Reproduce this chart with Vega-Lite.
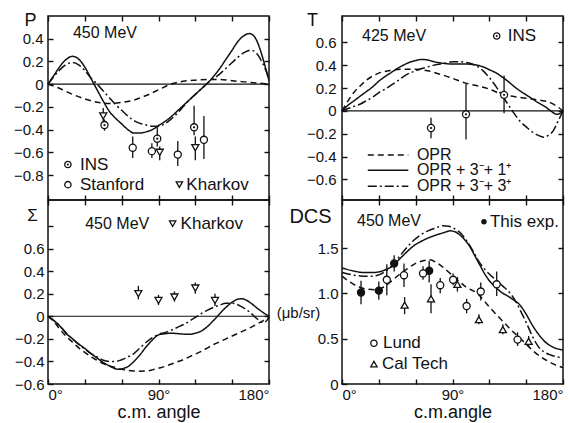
{
"$schema": "https://vega.github.io/schema/vega-lite/v6.json",
"padding": {"left": 12, "top": 10, "right": 2, "bottom": 2},
"background": "white",
"datasets": {
"one": [{}],
"pc": [
{"m":"S","a":0,"v":0},{"m":"S","a":5,"v":0.08},{"m":"S","a":10,"v":0.16},{"m":"S","a":15,"v":0.22},{"m":"S","a":20,"v":0.245},{"m":"S","a":25,"v":0.22},{"m":"S","a":30,"v":0.15},{"m":"S","a":35,"v":0.05},{"m":"S","a":40,"v":-0.05},{"m":"S","a":45,"v":-0.15},{"m":"S","a":50,"v":-0.24},{"m":"S","a":55,"v":-0.3},{"m":"S","a":60,"v":-0.35},{"m":"S","a":65,"v":-0.4},{"m":"S","a":70,"v":-0.43},{"m":"S","a":75,"v":-0.43},{"m":"S","a":80,"v":-0.42},{"m":"S","a":85,"v":-0.4},{"m":"S","a":90,"v":-0.365},{"m":"S","a":95,"v":-0.33},{"m":"S","a":100,"v":-0.29},{"m":"S","a":105,"v":-0.24},{"m":"S","a":110,"v":-0.19},{"m":"S","a":115,"v":-0.14},{"m":"S","a":120,"v":-0.09},{"m":"S","a":125,"v":-0.04},{"m":"S","a":130,"v":0.01},{"m":"S","a":135,"v":0.07},{"m":"S","a":140,"v":0.14},{"m":"S","a":145,"v":0.22},{"m":"S","a":150,"v":0.3},{"m":"S","a":155,"v":0.38},{"m":"S","a":160,"v":0.43},{"m":"S","a":164,"v":0.445},{"m":"S","a":168,"v":0.42},{"m":"S","a":172,"v":0.33},{"m":"S","a":176,"v":0.19},{"m":"S","a":180,"v":0.03},
{"m":"D","a":0,"v":0},{"m":"D","a":5,"v":0.07},{"m":"D","a":10,"v":0.13},{"m":"D","a":15,"v":0.175},{"m":"D","a":20,"v":0.19},{"m":"D","a":25,"v":0.17},{"m":"D","a":30,"v":0.12},{"m":"D","a":35,"v":0.055},{"m":"D","a":40,"v":0},{"m":"D","a":45,"v":-0.06},{"m":"D","a":50,"v":-0.12},{"m":"D","a":55,"v":-0.18},{"m":"D","a":60,"v":-0.23},{"m":"D","a":65,"v":-0.28},{"m":"D","a":70,"v":-0.32},{"m":"D","a":75,"v":-0.345},{"m":"D","a":80,"v":-0.36},{"m":"D","a":85,"v":-0.37},{"m":"D","a":90,"v":-0.37},{"m":"D","a":95,"v":-0.35},{"m":"D","a":100,"v":-0.31},{"m":"D","a":105,"v":-0.26},{"m":"D","a":110,"v":-0.2},{"m":"D","a":115,"v":-0.14},{"m":"D","a":120,"v":-0.09},{"m":"D","a":125,"v":-0.04},{"m":"D","a":130,"v":0.01},{"m":"D","a":135,"v":0.05},{"m":"D","a":140,"v":0.09},{"m":"D","a":145,"v":0.14},{"m":"D","a":150,"v":0.19},{"m":"D","a":155,"v":0.24},{"m":"D","a":160,"v":0.28},{"m":"D","a":165,"v":0.3},{"m":"D","a":170,"v":0.27},{"m":"D","a":175,"v":0.18},{"m":"D","a":180,"v":0.05},
{"m":"O","a":0,"v":0},{"m":"O","a":10,"v":-0.04},{"m":"O","a":20,"v":-0.09},{"m":"O","a":30,"v":-0.13},{"m":"O","a":40,"v":-0.16},{"m":"O","a":50,"v":-0.17},{"m":"O","a":60,"v":-0.16},{"m":"O","a":70,"v":-0.14},{"m":"O","a":80,"v":-0.1},{"m":"O","a":90,"v":-0.05},{"m":"O","a":100,"v":0},{"m":"O","a":110,"v":0.025},{"m":"O","a":120,"v":0.035},{"m":"O","a":130,"v":0.04},{"m":"O","a":140,"v":0.04},{"m":"O","a":150,"v":0.03},{"m":"O","a":160,"v":0.02},{"m":"O","a":170,"v":0.01},{"m":"O","a":180,"v":0}
],
"pp": [
{"s":"INS","a":46,"v":-0.36,"lo":-0.41,"hi":-0.31},{"s":"INS","a":89,"v":-0.48,"lo":-0.55,"hi":-0.37},{"s":"INS","a":119,"v":-0.38,"lo":-0.45,"hi":-0.19},
{"s":"Stanford","a":69,"v":-0.56,"lo":-0.65,"hi":-0.46},{"s":"Stanford","a":84.6,"v":-0.59,"lo":-0.65,"hi":-0.52},{"s":"Stanford","a":105.7,"v":-0.62,"lo":-0.72,"hi":-0.5},{"s":"Stanford","a":127,"v":-0.49,"lo":-0.66,"hi":-0.28},
{"s":"Kharkov","a":45,"v":-0.28,"lo":-0.33,"hi":-0.21},{"s":"Kharkov","a":91,"v":-0.6,"lo":-0.67,"hi":-0.55},{"s":"Kharkov","a":120,"v":-0.56,"lo":-0.67,"hi":-0.46}
],
"tc": [
{"m":"S","a":0,"v":0},{"m":"S","a":5,"v":0.05},{"m":"S","a":10,"v":0.09},{"m":"S","a":15,"v":0.13},{"m":"S","a":20,"v":0.17},{"m":"S","a":25,"v":0.21},{"m":"S","a":30,"v":0.26},{"m":"S","a":35,"v":0.3},{"m":"S","a":40,"v":0.335},{"m":"S","a":45,"v":0.37},{"m":"S","a":50,"v":0.4},{"m":"S","a":55,"v":0.425},{"m":"S","a":60,"v":0.44},{"m":"S","a":65,"v":0.45},{"m":"S","a":70,"v":0.445},{"m":"S","a":75,"v":0.43},{"m":"S","a":80,"v":0.42},{"m":"S","a":90,"v":0.41},{"m":"S","a":100,"v":0.41},{"m":"S","a":110,"v":0.4},{"m":"S","a":115,"v":0.385},{"m":"S","a":120,"v":0.36},{"m":"S","a":125,"v":0.335},{"m":"S","a":130,"v":0.3},{"m":"S","a":135,"v":0.26},{"m":"S","a":140,"v":0.215},{"m":"S","a":145,"v":0.175},{"m":"S","a":150,"v":0.14},{"m":"S","a":155,"v":0.105},{"m":"S","a":160,"v":0.07},{"m":"S","a":165,"v":0.04},{"m":"S","a":170,"v":0},{"m":"S","a":175,"v":-0.03},{"m":"S","a":178,"v":-0.02},{"m":"S","a":180,"v":0},
{"m":"D","a":0,"v":0},{"m":"D","a":5,"v":0.02},{"m":"D","a":10,"v":0.04},{"m":"D","a":15,"v":0.06},{"m":"D","a":20,"v":0.09},{"m":"D","a":25,"v":0.12},{"m":"D","a":30,"v":0.16},{"m":"D","a":35,"v":0.19},{"m":"D","a":40,"v":0.225},{"m":"D","a":45,"v":0.26},{"m":"D","a":50,"v":0.3},{"m":"D","a":55,"v":0.33},{"m":"D","a":60,"v":0.35},{"m":"D","a":65,"v":0.37},{"m":"D","a":70,"v":0.385},{"m":"D","a":75,"v":0.4},{"m":"D","a":80,"v":0.41},{"m":"D","a":85,"v":0.42},{"m":"D","a":90,"v":0.43},{"m":"D","a":95,"v":0.43},{"m":"D","a":100,"v":0.425},{"m":"D","a":105,"v":0.415},{"m":"D","a":110,"v":0.39},{"m":"D","a":115,"v":0.35},{"m":"D","a":120,"v":0.29},{"m":"D","a":125,"v":0.22},{"m":"D","a":130,"v":0.14},{"m":"D","a":135,"v":0.06},{"m":"D","a":140,"v":-0.02},{"m":"D","a":145,"v":-0.09},{"m":"D","a":150,"v":-0.14},{"m":"D","a":155,"v":-0.185},{"m":"D","a":160,"v":-0.215},{"m":"D","a":164,"v":-0.23},{"m":"D","a":168,"v":-0.215},{"m":"D","a":172,"v":-0.175},{"m":"D","a":176,"v":-0.09},{"m":"D","a":180,"v":0},
{"m":"O","a":0,"v":0},{"m":"O","a":5,"v":0.09},{"m":"O","a":10,"v":0.165},{"m":"O","a":15,"v":0.22},{"m":"O","a":20,"v":0.27},{"m":"O","a":25,"v":0.305},{"m":"O","a":30,"v":0.33},{"m":"O","a":40,"v":0.355},{"m":"O","a":50,"v":0.365},{"m":"O","a":60,"v":0.365},{"m":"O","a":70,"v":0.35},{"m":"O","a":80,"v":0.32},{"m":"O","a":90,"v":0.285},{"m":"O","a":100,"v":0.245},{"m":"O","a":110,"v":0.22},{"m":"O","a":120,"v":0.19},{"m":"O","a":130,"v":0.145},{"m":"O","a":140,"v":0.125},{"m":"O","a":150,"v":0.11},{"m":"O","a":160,"v":0.095},{"m":"O","a":170,"v":0.07},{"m":"O","a":175,"v":0.04},{"m":"O","a":180,"v":0}
],
"tp": [
{"s":"INS","a":72.5,"v":-0.15,"lo":-0.24,"hi":-0.06},{"s":"INS","a":101,"v":-0.03,"lo":-0.25,"hi":0.24},{"s":"INS","a":132,"v":0.14,"lo":-0.02,"hi":0.31}
],
"sc": [
{"m":"S","a":0,"v":0},{"m":"S","a":5,"v":-0.04},{"m":"S","a":10,"v":-0.09},{"m":"S","a":15,"v":-0.155},{"m":"S","a":20,"v":-0.2},{"m":"S","a":25,"v":-0.245},{"m":"S","a":30,"v":-0.285},{"m":"S","a":35,"v":-0.33},{"m":"S","a":40,"v":-0.37},{"m":"S","a":45,"v":-0.41},{"m":"S","a":50,"v":-0.44},{"m":"S","a":55,"v":-0.465},{"m":"S","a":58,"v":-0.47},{"m":"S","a":62,"v":-0.46},{"m":"S","a":66,"v":-0.44},{"m":"S","a":70,"v":-0.4},{"m":"S","a":75,"v":-0.34},{"m":"S","a":80,"v":-0.27},{"m":"S","a":85,"v":-0.21},{"m":"S","a":90,"v":-0.165},{"m":"S","a":95,"v":-0.155},{"m":"S","a":100,"v":-0.15},{"m":"S","a":105,"v":-0.153},{"m":"S","a":110,"v":-0.158},{"m":"S","a":115,"v":-0.16},{"m":"S","a":120,"v":-0.15},{"m":"S","a":125,"v":-0.13},{"m":"S","a":130,"v":-0.09},{"m":"S","a":135,"v":-0.035},{"m":"S","a":140,"v":0.025},{"m":"S","a":145,"v":0.08},{"m":"S","a":150,"v":0.125},{"m":"S","a":155,"v":0.152},{"m":"S","a":158,"v":0.155},{"m":"S","a":162,"v":0.14},{"m":"S","a":166,"v":0.11},{"m":"S","a":170,"v":0.075},{"m":"S","a":175,"v":0.035},{"m":"S","a":180,"v":0},
{"m":"D","a":0,"v":0},{"m":"D","a":5,"v":-0.04},{"m":"D","a":10,"v":-0.09},{"m":"D","a":15,"v":-0.15},{"m":"D","a":20,"v":-0.2},{"m":"D","a":25,"v":-0.25},{"m":"D","a":30,"v":-0.29},{"m":"D","a":35,"v":-0.33},{"m":"D","a":40,"v":-0.36},{"m":"D","a":45,"v":-0.39},{"m":"D","a":50,"v":-0.4},{"m":"D","a":55,"v":-0.4},{"m":"D","a":60,"v":-0.385},{"m":"D","a":65,"v":-0.36},{"m":"D","a":70,"v":-0.33},{"m":"D","a":75,"v":-0.28},{"m":"D","a":80,"v":-0.23},{"m":"D","a":85,"v":-0.19},{"m":"D","a":90,"v":-0.16},{"m":"D","a":95,"v":-0.145},{"m":"D","a":100,"v":-0.125},{"m":"D","a":105,"v":-0.1},{"m":"D","a":110,"v":-0.075},{"m":"D","a":115,"v":-0.045},{"m":"D","a":120,"v":-0.01},{"m":"D","a":125,"v":0.025},{"m":"D","a":130,"v":0.055},{"m":"D","a":135,"v":0.08},{"m":"D","a":140,"v":0.1},{"m":"D","a":145,"v":0.115},{"m":"D","a":150,"v":0.115},{"m":"D","a":155,"v":0.1},{"m":"D","a":160,"v":0.07},{"m":"D","a":165,"v":0.03},{"m":"D","a":170,"v":-0.02},{"m":"D","a":175,"v":-0.055},{"m":"D","a":178,"v":-0.04},{"m":"D","a":180,"v":-0.01},
{"m":"O","a":0,"v":0},{"m":"O","a":5,"v":-0.05},{"m":"O","a":10,"v":-0.12},{"m":"O","a":15,"v":-0.18},{"m":"O","a":20,"v":-0.23},{"m":"O","a":25,"v":-0.28},{"m":"O","a":30,"v":-0.32},{"m":"O","a":35,"v":-0.36},{"m":"O","a":40,"v":-0.39},{"m":"O","a":45,"v":-0.42},{"m":"O","a":50,"v":-0.44},{"m":"O","a":55,"v":-0.455},{"m":"O","a":60,"v":-0.47},{"m":"O","a":65,"v":-0.48},{"m":"O","a":70,"v":-0.485},{"m":"O","a":75,"v":-0.487},{"m":"O","a":80,"v":-0.485},{"m":"O","a":85,"v":-0.475},{"m":"O","a":90,"v":-0.46},{"m":"O","a":95,"v":-0.445},{"m":"O","a":100,"v":-0.425},{"m":"O","a":105,"v":-0.405},{"m":"O","a":110,"v":-0.385},{"m":"O","a":115,"v":-0.36},{"m":"O","a":120,"v":-0.335},{"m":"O","a":125,"v":-0.31},{"m":"O","a":130,"v":-0.28},{"m":"O","a":135,"v":-0.25},{"m":"O","a":140,"v":-0.225},{"m":"O","a":145,"v":-0.2},{"m":"O","a":150,"v":-0.175},{"m":"O","a":155,"v":-0.15},{"m":"O","a":160,"v":-0.125},{"m":"O","a":165,"v":-0.1},{"m":"O","a":170,"v":-0.07},{"m":"O","a":175,"v":-0.04},{"m":"O","a":180,"v":-0.01}
],
"sp": [
{"s":"Kharkov","a":73.6,"v":0.2,"lo":0.15,"hi":0.27},{"s":"Kharkov","a":90,"v":0.14,"lo":0.1,"hi":0.19},{"s":"Kharkov","a":103,"v":0.17,"lo":0.13,"hi":0.22},{"s":"Kharkov","a":120,"v":0.25,"lo":0.2,"hi":0.3},{"s":"Kharkov","a":136,"v":0.14,"lo":0.09,"hi":0.2}
],
"dc": [
{"m":"S","a":0,"v":1.28},{"m":"S","a":10,"v":1.245},{"m":"S","a":17,"v":1.23},{"m":"S","a":25,"v":1.23},{"m":"S","a":31,"v":1.24},{"m":"S","a":37,"v":1.27},{"m":"S","a":42,"v":1.31},{"m":"S","a":47,"v":1.38},{"m":"S","a":53,"v":1.46},{"m":"S","a":58,"v":1.52},{"m":"S","a":64,"v":1.57},{"m":"S","a":70,"v":1.61},{"m":"S","a":77,"v":1.645},{"m":"S","a":83,"v":1.67},{"m":"S","a":88,"v":1.69},{"m":"S","a":92,"v":1.68},{"m":"S","a":96,"v":1.645},{"m":"S","a":100,"v":1.59},{"m":"S","a":104,"v":1.52},{"m":"S","a":108,"v":1.42},{"m":"S","a":112,"v":1.32},{"m":"S","a":116,"v":1.22},{"m":"S","a":120,"v":1.14},{"m":"S","a":125,"v":1.07},{"m":"S","a":130,"v":1.01},{"m":"S","a":135,"v":0.97},{"m":"S","a":140,"v":0.925},{"m":"S","a":145,"v":0.87},{"m":"S","a":150,"v":0.77},{"m":"S","a":155,"v":0.65},{"m":"S","a":160,"v":0.55},{"m":"S","a":165,"v":0.47},{"m":"S","a":170,"v":0.42},{"m":"S","a":175,"v":0.39},{"m":"S","a":180,"v":0.375},
{"m":"D","a":0,"v":1.23},{"m":"D","a":10,"v":1.2},{"m":"D","a":17,"v":1.19},{"m":"D","a":25,"v":1.19},{"m":"D","a":31,"v":1.21},{"m":"D","a":37,"v":1.26},{"m":"D","a":42,"v":1.32},{"m":"D","a":47,"v":1.41},{"m":"D","a":53,"v":1.51},{"m":"D","a":58,"v":1.58},{"m":"D","a":64,"v":1.645},{"m":"D","a":70,"v":1.69},{"m":"D","a":76,"v":1.72},{"m":"D","a":82,"v":1.745},{"m":"D","a":87,"v":1.74},{"m":"D","a":92,"v":1.71},{"m":"D","a":97,"v":1.66},{"m":"D","a":102,"v":1.57},{"m":"D","a":107,"v":1.46},{"m":"D","a":111,"v":1.36},{"m":"D","a":116,"v":1.27},{"m":"D","a":121,"v":1.2},{"m":"D","a":126,"v":1.14},{"m":"D","a":131,"v":1.08},{"m":"D","a":137,"v":1},{"m":"D","a":142,"v":0.9},{"m":"D","a":146,"v":0.79},{"m":"D","a":150,"v":0.68},{"m":"D","a":155,"v":0.53},{"m":"D","a":160,"v":0.41},{"m":"D","a":165,"v":0.35},{"m":"D","a":170,"v":0.32},{"m":"D","a":175,"v":0.3},{"m":"D","a":180,"v":0.29},
{"m":"O","a":0,"v":1.19},{"m":"O","a":7,"v":1.12},{"m":"O","a":14,"v":1.07},{"m":"O","a":21,"v":1.045},{"m":"O","a":28,"v":1.04},{"m":"O","a":34,"v":1.07},{"m":"O","a":39,"v":1.12},{"m":"O","a":46,"v":1.2},{"m":"O","a":53,"v":1.27},{"m":"O","a":60,"v":1.33},{"m":"O","a":66,"v":1.36},{"m":"O","a":71,"v":1.37},{"m":"O","a":77,"v":1.34},{"m":"O","a":83,"v":1.28},{"m":"O","a":88,"v":1.22},{"m":"O","a":94,"v":1.15},{"m":"O","a":101,"v":1.07},{"m":"O","a":110,"v":1},{"m":"O","a":115,"v":0.93},{"m":"O","a":120,"v":0.85},{"m":"O","a":129,"v":0.72},{"m":"O","a":136,"v":0.62},{"m":"O","a":143,"v":0.53},{"m":"O","a":150,"v":0.44},{"m":"O","a":156,"v":0.36},{"m":"O","a":162,"v":0.3},{"m":"O","a":168,"v":0.25},{"m":"O","a":174,"v":0.21},{"m":"O","a":180,"v":0.18}
],
"dp": [
{"s":"This exp.","a":15.5,"v":1.01,"lo":0.88,"hi":1.14},{"s":"This exp.","a":30,"v":1.03,"lo":0.93,"hi":1.13},{"s":"This exp.","a":42.5,"v":1.33,"lo":1.24,"hi":1.42},{"s":"This exp.","a":71,"v":1.25,"lo":1.12,"hi":1.36},
{"s":"Lund","a":36.5,"v":1.15,"lo":0.98,"hi":1.32},{"s":"Lund","a":50.5,"v":1.2,"lo":1.07,"hi":1.33},{"s":"Lund","a":66,"v":1.22,"lo":1.15,"hi":1.3},{"s":"Lund","a":80,"v":1.09,"lo":1,"hi":1.17},{"s":"Lund","a":90.5,"v":1.15,"lo":1.09,"hi":1.22},{"s":"Lund","a":101.5,"v":0.86,"lo":0.78,"hi":0.94},{"s":"Lund","a":113,"v":1.02,"lo":0.92,"hi":1.12},{"s":"Lund","a":126,"v":1.1,"lo":0.97,"hi":1.24},{"s":"Lund","a":143,"v":0.49,"lo":0.42,"hi":0.57},
{"s":"Cal Tech","a":51,"v":0.87,"lo":0.77,"hi":0.96},{"s":"Cal Tech","a":72.5,"v":0.94,"lo":0.78,"hi":1.1},{"s":"Cal Tech","a":94,"v":1.1,"lo":1.02,"hi":1.18},{"s":"Cal Tech","a":111.5,"v":0.71,"lo":0.66,"hi":0.77},{"s":"Cal Tech","a":131,"v":0.6,"lo":0.55,"hi":0.66},{"s":"Cal Tech","a":152,"v":0.47,"lo":0.41,"hi":0.53}
]
},
"columns": 2,
"spacing": {"row": 0, "column": 73},
"bounds": "flush",
"concat": [
{
"width": 221, "height": 184,
"resolve": {"axis": {"x": "independent", "y": "independent"}},
"layer": [
{"data": {"name": "one"}, "mark": {"type": "point", "opacity": 0},
 "encoding": {
  "x": {"datum": 0, "type": "quantitative", "scale": {"domain": [0, 180], "nice": false, "zero": false}, "axis": {"orient": "top", "values": [0,30,60,90,120,150,180], "tickCount": 20, "labels": false, "title": null}},
  "y": {"datum": 0, "type": "quantitative", "scale": {"domain": [-1.02, 0.6], "nice": false, "zero": false}, "axis": {"orient": "right", "values": [-0.8,-0.6,-0.4,-0.2,0,0.2,0.4], "tickCount": 20, "labels": false, "title": null}}}},
{"layer": [
{"data": {"name": "pc"}, "mark": {"type": "line", "interpolate": "monotone"},
 "encoding": {
  "x": {"field": "a", "type": "quantitative", "scale": {"domain": [0, 180], "nice": false, "zero": false}, "axis": {"orient": "bottom", "values": [0,30,60,90,120,150,180], "tickCount": 20, "labels": false, "title": null}},
  "y": {"field": "v", "type": "quantitative", "scale": {"domain": [-1.02, 0.6], "nice": false, "zero": false}, "axis": {"orient": "left", "values": [-0.8,-0.6,-0.4,-0.2,0,0.2,0.4], "tickCount": 20, "labelOverlap": false, "labelExpr": "datum.value == 0 ? '0' : replace(format(datum.value, '.1f'), '-', '−')", "labelPadding": 10, "title": "P", "titleAngle": 0, "titleFontSize": 18, "titleX": -18, "titleY": 4, "titleAlign": "center", "titleBaseline": "middle"}},
  "strokeDash": {"field": "m", "type": "nominal", "scale": {"domain": ["O","S","D"], "range": [[6,4],[1,0],[9,3,2,3]]}, "legend": null}}},
{"data": {"name": "one"}, "mark": {"type": "rule", "strokeWidth": 1.2}, "encoding": {"x": {"datum": 0}, "x2": {"datum": 180}, "y": {"datum": 0}}},
{"data": {"name": "pp"}, "mark": {"type": "rule", "strokeWidth": 1.3}, "encoding": {"x": {"field": "a", "type": "quantitative"}, "y": {"field": "lo", "type": "quantitative"}, "y2": {"field": "hi"}}},
{"data": {"name": "pp"}, "mark": {"type": "point", "filled": true, "stroke": "#111", "strokeWidth": 1.3, "size": 50, "opacity": 1},
 "encoding": {"x": {"field": "a", "type": "quantitative"}, "y": {"field": "v", "type": "quantitative"},
  "shape": {"field": "s", "type": "nominal", "scale": {"domain": ["INS","Stanford","Kharkov","Lund","Cal Tech","This exp."], "range": ["circle","circle","triangle-down","circle","triangle-up","circle"]}, "legend": null},
  "fill": {"field": "s", "type": "nominal", "scale": {"domain": ["INS","Stanford","Kharkov","Lund","Cal Tech","This exp."], "range": ["white","white","white","white","white","#111"]}, "legend": null}}},
{"data": {"name": "pp"}, "transform": [{"filter": "datum.s == 'INS'"}], "mark": {"type": "circle", "size": 5, "color": "#111", "opacity": 1}, "encoding": {"x": {"field": "a", "type": "quantitative"}, "y": {"field": "v", "type": "quantitative"}}},
{"data": {"name": "one"}, "mark": {"type": "text", "text": "450 MeV", "align": "left", "baseline": "middle", "fontSize": 16}, "encoding": {"x": {"datum": 20.3}, "y": {"datum": 0.447}}},
{"data": {"name": "one"}, "mark": {"type": "point", "shape": "circle", "filled": true, "fill": "white", "stroke": "#111", "strokeWidth": 1.3, "size": 40, "opacity": 1}, "encoding": {"x": {"datum": 16.2}, "y": {"datum": -0.708}}},
{"data": {"name": "one"}, "mark": {"type": "circle", "size": 4, "color": "#111", "opacity": 1}, "encoding": {"x": {"datum": 16.2}, "y": {"datum": -0.708}}},
{"data": {"name": "one"}, "mark": {"type": "text", "text": "INS", "align": "left", "baseline": "middle", "fontSize": 17}, "encoding": {"x": {"datum": 26}, "y": {"datum": -0.708}}},
{"data": {"name": "one"}, "mark": {"type": "point", "shape": "circle", "filled": true, "fill": "white", "stroke": "#111", "strokeWidth": 1.3, "size": 40, "opacity": 1}, "encoding": {"x": {"datum": 16.2}, "y": {"datum": -0.885}}},
{"data": {"name": "one"}, "mark": {"type": "text", "text": "Stanford", "align": "left", "baseline": "middle", "fontSize": 17}, "encoding": {"x": {"datum": 26}, "y": {"datum": -0.885}}},
{"data": {"name": "one"}, "mark": {"type": "point", "shape": "triangle-down", "filled": true, "fill": "white", "stroke": "#111", "strokeWidth": 1.3, "size": 40, "opacity": 1}, "encoding": {"x": {"datum": 107}, "y": {"datum": -0.885}}},
{"data": {"name": "one"}, "mark": {"type": "text", "text": "Kharkov", "align": "left", "baseline": "middle", "fontSize": 17}, "encoding": {"x": {"datum": 112.7}, "y": {"datum": -0.885}}}
]}
]
},
{
"width": 221, "height": 184,
"resolve": {"axis": {"x": "independent", "y": "independent"}},
"layer": [
{"data": {"name": "one"}, "mark": {"type": "point", "opacity": 0},
 "encoding": {
  "x": {"datum": 0, "type": "quantitative", "scale": {"domain": [0, 180], "nice": false, "zero": false}, "axis": {"orient": "top", "values": [0,30,60,90,120,150,180], "tickCount": 20, "labels": false, "title": null}},
  "y": {"datum": 0, "type": "quantitative", "scale": {"domain": [-0.78, 0.83], "nice": false, "zero": false}, "axis": {"orient": "right", "values": [-0.6,-0.4,-0.2,0,0.2,0.4,0.6], "tickCount": 20, "labels": false, "title": null}}}},
{"layer": [
{"data": {"name": "tc"}, "mark": {"type": "line", "interpolate": "monotone"},
 "encoding": {
  "x": {"field": "a", "type": "quantitative", "scale": {"domain": [0, 180], "nice": false, "zero": false}, "axis": {"orient": "bottom", "values": [0,30,60,90,120,150,180], "tickCount": 20, "labels": false, "title": null}},
  "y": {"field": "v", "type": "quantitative", "scale": {"domain": [-0.78, 0.83], "nice": false, "zero": false}, "axis": {"orient": "left", "values": [-0.6,-0.4,-0.2,0,0.2,0.4,0.6], "tickCount": 20, "labelOverlap": false, "labelExpr": "datum.value == 0 ? '0' : replace(format(datum.value, '.1f'), '-', '−')", "labelPadding": 11, "title": "T", "titleAngle": 0, "titleFontSize": 18, "titleX": -30, "titleY": 4, "titleAlign": "center", "titleBaseline": "middle"}},
  "strokeDash": {"field": "m", "type": "nominal", "scale": {"domain": ["O","S","D"], "range": [[6,4],[1,0],[9,3,2,3]]}, "legend": null}}},
{"data": {"name": "one"}, "mark": {"type": "rule", "strokeWidth": 1.2}, "encoding": {"x": {"datum": 0}, "x2": {"datum": 180}, "y": {"datum": 0}}},
{"data": {"name": "tp"}, "mark": {"type": "rule", "strokeWidth": 1.3}, "encoding": {"x": {"field": "a", "type": "quantitative"}, "y": {"field": "lo", "type": "quantitative"}, "y2": {"field": "hi"}}},
{"data": {"name": "tp"}, "mark": {"type": "point", "filled": true, "stroke": "#111", "strokeWidth": 1.3, "size": 50, "opacity": 1},
 "encoding": {"x": {"field": "a", "type": "quantitative"}, "y": {"field": "v", "type": "quantitative"},
  "shape": {"field": "s", "type": "nominal", "scale": {"domain": ["INS","Stanford","Kharkov","Lund","Cal Tech","This exp."], "range": ["circle","circle","triangle-down","circle","triangle-up","circle"]}, "legend": null},
  "fill": {"field": "s", "type": "nominal", "scale": {"domain": ["INS","Stanford","Kharkov","Lund","Cal Tech","This exp."], "range": ["white","white","white","white","white","#111"]}, "legend": null}}},
{"data": {"name": "tp"}, "mark": {"type": "circle", "size": 5, "color": "#111", "opacity": 1}, "encoding": {"x": {"field": "a", "type": "quantitative"}, "y": {"field": "v", "type": "quantitative"}}},
{"data": {"name": "one"}, "mark": {"type": "text", "text": "425 MeV", "align": "left", "baseline": "middle", "fontSize": 16}, "encoding": {"x": {"datum": 16.3}, "y": {"datum": 0.658}}},
{"data": {"name": "one"}, "mark": {"type": "point", "shape": "circle", "filled": true, "fill": "white", "stroke": "#111", "strokeWidth": 1.3, "size": 40, "opacity": 1}, "encoding": {"x": {"datum": 126}, "y": {"datum": 0.655}}},
{"data": {"name": "one"}, "mark": {"type": "circle", "size": 4, "color": "#111", "opacity": 1}, "encoding": {"x": {"datum": 126}, "y": {"datum": 0.655}}},
{"data": {"name": "one"}, "mark": {"type": "text", "text": "INS", "align": "left", "baseline": "middle", "fontSize": 17}, "encoding": {"x": {"datum": 135}, "y": {"datum": 0.655}}},
{"data": {"name": "one"}, "mark": {"type": "rule", "strokeDash": [6,4], "strokeWidth": 1.4}, "encoding": {"x": {"datum": 21}, "x2": {"datum": 54}, "y": {"datum": -0.386}}},
{"data": {"name": "one"}, "mark": {"type": "text", "text": "OPR", "align": "left", "baseline": "middle", "fontSize": 16}, "encoding": {"x": {"datum": 61}, "y": {"datum": -0.386}}},
{"data": {"name": "one"}, "mark": {"type": "rule", "strokeWidth": 1.4}, "encoding": {"x": {"datum": 21}, "x2": {"datum": 54}, "y": {"datum": -0.52}}},
{"data": {"name": "one"}, "mark": {"type": "text", "text": "OPR + 3⁻+ 1⁺", "align": "left", "baseline": "middle", "fontSize": 16}, "encoding": {"x": {"datum": 61}, "y": {"datum": -0.52}}},
{"data": {"name": "one"}, "mark": {"type": "rule", "strokeDash": [9,3,2,3], "strokeWidth": 1.4}, "encoding": {"x": {"datum": 21}, "x2": {"datum": 54}, "y": {"datum": -0.66}}},
{"data": {"name": "one"}, "mark": {"type": "text", "text": "OPR + 3⁻+ 3⁺", "align": "left", "baseline": "middle", "fontSize": 16}, "encoding": {"x": {"datum": 61}, "y": {"datum": -0.66}}}
]}
]
},
{
"width": 221, "height": 184,
"resolve": {"axis": {"x": "independent", "y": "independent"}},
"layer": [
{"data": {"name": "one"}, "mark": {"type": "point", "opacity": 0},
 "encoding": {
  "x": {"datum": 0, "type": "quantitative", "scale": {"domain": [0, 180], "nice": false, "zero": false}, "axis": {"orient": "top", "values": [0,30,60,90,120,150,180], "tickCount": 20, "labels": false, "title": null}},
  "y": {"datum": 0, "type": "quantitative", "scale": {"domain": [-0.6, 1.03], "nice": false, "zero": false}, "axis": {"orient": "right", "values": [-0.4,-0.2,0,0.2,0.4,0.6,0.8], "tickCount": 20, "labels": false, "title": null}}}},
{"layer": [
{"data": {"name": "sc"}, "mark": {"type": "line", "interpolate": "monotone"},
 "encoding": {
  "x": {"field": "a", "type": "quantitative", "scale": {"domain": [0, 180], "nice": false, "zero": false}, "axis": {"orient": "bottom", "values": [0,30,60,90,120,150,180], "tickCount": 20, "labelOverlap": false, "labelExpr": "datum.value % 90 == 0 ? datum.value + '°' : ''", "labelFlush": true, "labelPadding": 8, "title": "c.m. angle", "titleFontSize": 18, "titleY": 33, "titleBaseline": "alphabetic"}},
  "y": {"field": "v", "type": "quantitative", "scale": {"domain": [-0.6, 1.03], "nice": false, "zero": false}, "axis": {"orient": "left", "values": [-0.6,-0.4,-0.2,0,0.2,0.4,0.6,0.8], "tickCount": 20, "labelOverlap": false, "labelExpr": "datum.value > 0.7 ? '' : datum.value == 0 ? '0' : replace(format(datum.value, '.1f'), '-', '−')", "labelPadding": 9, "title": "Σ", "titleAngle": 0, "titleFontSize": 17, "titleX": -16, "titleY": 15, "titleAlign": "center", "titleBaseline": "middle"}},
  "strokeDash": {"field": "m", "type": "nominal", "scale": {"domain": ["O","S","D"], "range": [[6,4],[1,0],[9,3,2,3]]}, "legend": null}}},
{"data": {"name": "one"}, "mark": {"type": "rule", "strokeWidth": 1.2}, "encoding": {"x": {"datum": 0}, "x2": {"datum": 180}, "y": {"datum": 0}}},
{"data": {"name": "sp"}, "mark": {"type": "rule", "strokeWidth": 1.3}, "encoding": {"x": {"field": "a", "type": "quantitative"}, "y": {"field": "lo", "type": "quantitative"}, "y2": {"field": "hi"}}},
{"data": {"name": "sp"}, "mark": {"type": "point", "filled": true, "stroke": "#111", "strokeWidth": 1.3, "size": 50, "opacity": 1},
 "encoding": {"x": {"field": "a", "type": "quantitative"}, "y": {"field": "v", "type": "quantitative"},
  "shape": {"field": "s", "type": "nominal", "scale": {"domain": ["INS","Stanford","Kharkov","Lund","Cal Tech","This exp."], "range": ["circle","circle","triangle-down","circle","triangle-up","circle"]}, "legend": null},
  "fill": {"field": "s", "type": "nominal", "scale": {"domain": ["INS","Stanford","Kharkov","Lund","Cal Tech","This exp."], "range": ["white","white","white","white","white","#111"]}, "legend": null}}},
{"data": {"name": "one"}, "mark": {"type": "text", "text": "450 MeV", "align": "left", "baseline": "middle", "fontSize": 16}, "encoding": {"x": {"datum": 30.3}, "y": {"datum": 0.82}}},
{"data": {"name": "one"}, "mark": {"type": "point", "shape": "triangle-down", "filled": true, "fill": "white", "stroke": "#111", "strokeWidth": 1.3, "size": 40, "opacity": 1}, "encoding": {"x": {"datum": 101.5}, "y": {"datum": 0.82}}},
{"data": {"name": "one"}, "mark": {"type": "text", "text": "Kharkov", "align": "left", "baseline": "middle", "fontSize": 17}, "encoding": {"x": {"datum": 108}, "y": {"datum": 0.82}}}
]}
]
},
{
"width": 221, "height": 184,
"resolve": {"axis": {"x": "independent", "y": "independent"}},
"layer": [
{"data": {"name": "one"}, "mark": {"type": "point", "opacity": 0},
 "encoding": {
  "x": {"datum": 0, "type": "quantitative", "scale": {"domain": [0, 180], "nice": false, "zero": false}, "axis": {"orient": "top", "values": [0,30,60,90,120,150,180], "tickCount": 20, "labels": false, "title": null}},
  "y": {"datum": 1, "type": "quantitative", "scale": {"domain": [0, 2.03], "nice": false, "zero": false}, "axis": {"orient": "right", "values": [0.5,1,1.5], "tickCount": 20, "labels": false, "title": "(μb/sr)", "titleAngle": 0, "titleFontSize": 15, "titleFontWeight": "normal", "titleX": -265, "titleY": 112, "titleAlign": "center", "titleBaseline": "middle"}}}},
{"layer": [
{"data": {"name": "dc"}, "mark": {"type": "line", "interpolate": "monotone"},
 "encoding": {
  "x": {"field": "a", "type": "quantitative", "scale": {"domain": [0, 180], "nice": false, "zero": false}, "axis": {"orient": "bottom", "values": [0,30,60,90,120,150,180], "tickCount": 20, "labelOverlap": false, "labelExpr": "datum.value % 90 == 0 ? datum.value + '°' : ''", "labelFlush": true, "labelPadding": 8, "title": "c.m.angle", "titleFontSize": 18, "titleY": 33, "titleBaseline": "alphabetic"}},
  "y": {"field": "v", "type": "quantitative", "scale": {"domain": [0, 2.03], "nice": false, "zero": false}, "axis": {"orient": "left", "values": [0,0.5,1,1.5], "tickCount": 20, "labelOverlap": false, "labelExpr": "datum.value == 0 ? '0' : format(datum.value, '.1f')", "labelPadding": 9, "title": "DCS", "titleAngle": 0, "titleFontSize": 20, "titleX": -32, "titleY": 16, "titleAlign": "center", "titleBaseline": "middle"}},
  "strokeDash": {"field": "m", "type": "nominal", "scale": {"domain": ["O","S","D"], "range": [[6,4],[1,0],[9,3,2,3]]}, "legend": null}}},
{"data": {"name": "dp"}, "mark": {"type": "rule", "strokeWidth": 1.3}, "encoding": {"x": {"field": "a", "type": "quantitative"}, "y": {"field": "lo", "type": "quantitative"}, "y2": {"field": "hi"}}},
{"data": {"name": "dp"}, "mark": {"type": "point", "filled": true, "stroke": "#111", "strokeWidth": 1.3, "size": 50, "opacity": 1},
 "encoding": {"x": {"field": "a", "type": "quantitative"}, "y": {"field": "v", "type": "quantitative"},
  "shape": {"field": "s", "type": "nominal", "scale": {"domain": ["INS","Stanford","Kharkov","Lund","Cal Tech","This exp."], "range": ["circle","circle","triangle-down","circle","triangle-up","circle"]}, "legend": null},
  "fill": {"field": "s", "type": "nominal", "scale": {"domain": ["INS","Stanford","Kharkov","Lund","Cal Tech","This exp."], "range": ["white","white","white","white","white","#111"]}, "legend": null}}},
{"data": {"name": "one"}, "mark": {"type": "text", "text": "450 MeV", "align": "left", "baseline": "middle", "fontSize": 16}, "encoding": {"x": {"datum": 12.2}, "y": {"datum": 1.8}}},
{"data": {"name": "one"}, "mark": {"type": "circle", "size": 30, "color": "#111", "opacity": 1}, "encoding": {"x": {"datum": 115.6}, "y": {"datum": 1.79}}},
{"data": {"name": "one"}, "mark": {"type": "text", "text": "This exp.", "align": "left", "baseline": "middle", "fontSize": 17}, "encoding": {"x": {"datum": 120.5}, "y": {"datum": 1.79}}},
{"data": {"name": "one"}, "mark": {"type": "point", "shape": "circle", "filled": true, "fill": "white", "stroke": "#111", "strokeWidth": 1.3, "size": 40, "opacity": 1}, "encoding": {"x": {"datum": 26}, "y": {"datum": 0.45}}},
{"data": {"name": "one"}, "mark": {"type": "text", "text": "Lund", "align": "left", "baseline": "middle", "fontSize": 17}, "encoding": {"x": {"datum": 33.4}, "y": {"datum": 0.45}}},
{"data": {"name": "one"}, "mark": {"type": "point", "shape": "triangle-up", "filled": true, "fill": "white", "stroke": "#111", "strokeWidth": 1.3, "size": 40, "opacity": 1}, "encoding": {"x": {"datum": 26}, "y": {"datum": 0.22}}},
{"data": {"name": "one"}, "mark": {"type": "text", "text": "Cal Tech", "align": "left", "baseline": "middle", "fontSize": 17}, "encoding": {"x": {"datum": 32.6}, "y": {"datum": 0.22}}}
]}
]
}
],
"config": {
 "font": "Liberation Sans",
 "view": {"stroke": "#111", "strokeWidth": 1.5},
 "axis": {"labelFont": "Liberation Sans", "labelFontSize": 15, "labelColor": "#111", "tickColor": "#111", "tickWidth": 1.4, "tickSize": -5, "domain": false, "grid": false, "titleFont": "Liberation Sans", "titleColor": "#111", "titleFontWeight": "normal", "labelBound": false, "labelOverlap": false},
 "text": {"font": "Liberation Sans", "color": "#111"},
 "line": {"color": "#111", "strokeWidth": 1.5},
 "rule": {"color": "#111"}
}
}
